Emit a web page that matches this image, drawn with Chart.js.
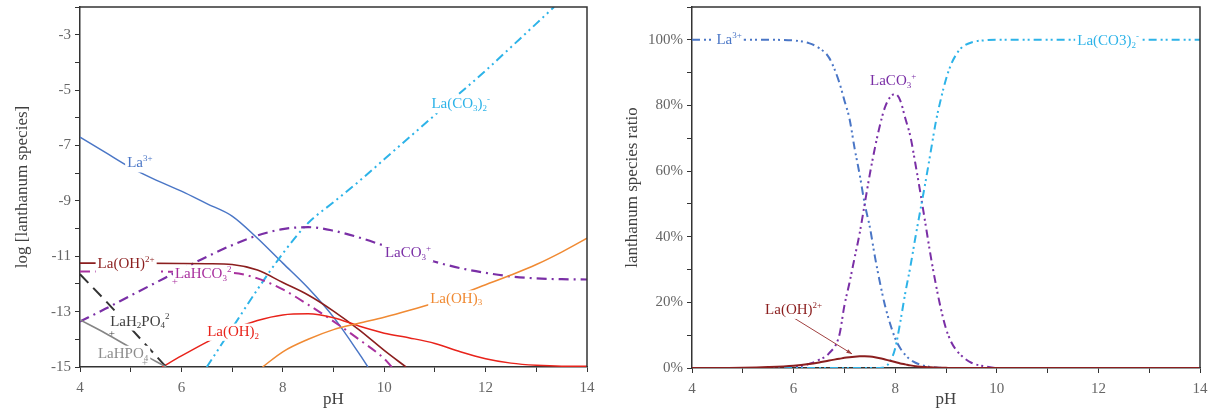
<!DOCTYPE html>
<html><head><meta charset="utf-8">
<script src="https://cdn.jsdelivr.net/npm/chart.js@4.4.1/dist/chart.umd.min.js"></script>
<style>
html,body{margin:0;padding:0;background:#fff;}
#wrapL{position:absolute;left:0;top:0;width:610px;height:412px;}
#wrapR{position:absolute;left:610px;top:0;width:607px;height:412px;}
</style></head><body>
<div id="wrapL"><canvas id="cL" width="610" height="412" style="width:610px;height:412px"></canvas></div>
<div id="wrapR"><canvas id="cR" width="607" height="412" style="width:607px;height:412px"></canvas></div>
<script>
// ---------- Left chart: log [lanthanum species] vs pH ----------
const pH_La3 = [4, 4.5, 5, 5.5, 6, 6.5, 7, 7.5, 8, 8.5, 9, 9.5, 9.68];
const log_La3 = [-6.7, -7.25, -7.8, -8.25, -8.65, -9.1, -9.55, -10.35, -11.25, -12.15, -13.2, -14.5, -15];

const pH_LaCO3 = [4, 4.5, 5, 5.5, 6, 6.5, 7, 7.5, 8, 8.5, 9, 9.5, 10, 10.5, 11, 11.5, 12, 12.5, 13, 13.5, 14];
const log_LaCO3 = [-13.36, -12.9, -12.42, -11.95, -11.48, -11.02, -10.6, -10.25, -10.02, -9.95, -10.08, -10.32, -10.62, -10.92, -11.2, -11.43, -11.6, -11.73, -11.8, -11.83, -11.84];

const pH_LaCO32 = [6.5, 7, 7.5, 8, 8.5, 9, 9.5, 10, 10.5, 11, 11.5, 12, 12.5, 13, 13.35];
const log_LaCO32 = [-15, -13.6, -12.2, -10.9, -9.8, -9.05, -8.3, -7.5, -6.7, -5.9, -5.1, -4.3, -3.45, -2.6, -2.0];

const pH_LaOH = [4, 5, 6, 6.5, 7, 7.5, 8, 8.5, 9, 9.5, 10, 10.43];
const log_LaOH = [-11.25, -11.25, -11.26, -11.27, -11.3, -11.5, -11.95, -12.4, -12.98, -13.65, -14.4, -15];

const pH_LaHCO3 = [4, 5, 6, 7, 7.5, 8, 8.5, 9, 9.5, 10, 10.15];
const log_LaHCO3 = [-11.55, -11.55, -11.56, -11.6, -11.8, -12.2, -12.75, -13.35, -14.0, -14.7, -15];

const pH_LaOH2 = [5.62, 6, 6.5, 7, 7.5, 8, 8.5, 9, 9.5, 10, 10.5, 11, 11.5, 12, 12.5, 13, 13.5, 14];
const log_LaOH2 = [-15, -14.6, -14.1, -13.65, -13.32, -13.12, -13.08, -13.22, -13.52, -13.78, -13.95, -14.15, -14.45, -14.7, -14.86, -14.94, -14.97, -14.97];

const pH_LaOH3 = [7.6, 8, 8.5, 9, 9.5, 10, 10.5, 11, 11.5, 12, 12.5, 13, 13.5, 14];
const log_LaOH3 = [-15, -14.45, -14.0, -13.65, -13.42, -13.2, -12.95, -12.68, -12.38, -12.03, -11.68, -11.3, -10.85, -10.35];

const pH_LaH2PO4 = [4, 4.5, 5, 5.5, 5.7];
const log_LaH2PO4 = [-11.65, -12.6, -13.6, -14.6, -15];

const pH_LaHPO4 = [4, 4.5, 5, 5.5, 5.7];
const log_LaHPO4 = [-13.3, -13.78, -14.3, -14.8, -15];

const leftXTicks = [4, 6, 8, 10, 12, 14];
const leftYTicks = [-3, -5, -7, -9, -11, -13, -15];

// ---------- Right chart: species ratio (%) vs pH ----------
const pH_R = [4, 5, 5.5, 6, 6.3, 6.5, 6.7, 6.9, 7.0, 7.1, 7.2, 7.3, 7.4, 7.5, 7.6, 7.7, 7.8, 7.9, 8.0, 8.1, 8.2, 8.3, 8.4, 8.5, 8.6, 8.7, 8.8, 8.9, 9.0, 9.1, 9.2, 9.3, 9.5, 9.8, 10, 11, 12, 13, 14];
const ratio_La3 = [100, 100, 100, 99.8, 99, 97.5, 94.5, 87, 81.5, 76, 67, 59, 50, 43, 34, 26, 19, 13.5, 9, 6, 4, 2.5, 1.6, 1, 0.6, 0.3, 0.15, 0.05, 0, 0, 0, 0, 0, 0, 0, 0, 0, 0, 0];
const ratio_LaCO3 = [0, 0, 0, 0.3, 1.2, 2.5, 4.5, 10, 19, 26, 33.5, 41, 50, 59, 67, 74, 79.5, 82.5, 83.5, 81.5, 76, 70.5, 62, 53, 43.5, 34, 25.5, 18, 12, 8, 5.5, 3.8, 1.6, 0.4, 0, 0, 0, 0, 0];
const ratio_LaCO32 = [0, 0, 0, 0, 0, 0, 0, 0, 0, 0, 0, 0, 0, 0, 0, 0, 0.3, 2, 6, 14, 23, 31, 40, 48.5, 57, 66, 75, 82, 88, 92.5, 95.5, 97.5, 99.2, 99.9, 100, 100, 100, 100, 100];
const ratio_LaOH = [0, 0.1, 0.3, 0.7, 1.2, 1.7, 2.3, 2.8, 3.1, 3.3, 3.45, 3.55, 3.6, 3.5, 3.3, 3.0, 2.6, 2.2, 1.8, 1.4, 1.1, 0.8, 0.55, 0.4, 0.3, 0.2, 0.12, 0.08, 0.05, 0, 0, 0, 0, 0, 0, 0, 0, 0, 0];

const rightXTicks = [4, 6, 8, 10, 12, 14];
const rightYTicks = [0, 20, 40, 60, 80, 100];

// ---------- helpers ----------
const FONT = '"Liberation Serif", "Times New Roman", serif';
function pts(xs, ys) { return xs.map((x, i) => ({x: x, y: ys[i]})); }
function ds(label, xs, ys, color, width, dash) {
  return {label, data: pts(xs, ys), borderColor: color, borderWidth: width, borderDash: dash || [],
    pointRadius: 0, fill: false, cubicInterpolationMode: 'monotone', tension: 0.4};
}
function parseRich(s) {
  const parts = []; const re = /(\^|_)\{([^}]*)\}/g; let last = 0, m;
  while ((m = re.exec(s))) {
    if (m.index > last) parts.push({t: s.slice(last, m.index)});
    parts.push({t: m[2], sup: m[1] === '^', sub: m[1] === '_'});
    last = re.lastIndex;
  }
  if (last < s.length) parts.push({t: s.slice(last)});
  return parts;
}
function drawRich(ctx, s, cx, cy, size, color, bg) {
  const parts = parseRich(s); const small = Math.round(size * 0.62);
  let w = 0;
  parts.forEach(p => { ctx.font = ((p.sup || p.sub) ? small : size) + 'px ' + FONT; p.w = ctx.measureText(p.t).width; w += p.w; });
  let x = cx - w / 2;
  if (bg) { ctx.fillStyle = '#fff'; ctx.fillRect(x - 2, cy - size * 0.55, w + 4, size * 1.15); }
  ctx.fillStyle = color; ctx.textBaseline = 'middle'; ctx.textAlign = 'left';
  parts.forEach(p => {
    ctx.font = ((p.sup || p.sub) ? small : size) + 'px ' + FONT;
    const dy = p.sub ? size * 0.3 : (p.sup ? -size * 0.3 : 0);
    ctx.fillText(p.t, x, cy + dy); x += p.w;
  });
}
const framePlugin = {
  id: 'frame',
  afterDraw(chart) {
    const {ctx, chartArea: a} = chart;
    ctx.save(); ctx.strokeStyle = '#333'; ctx.lineWidth = 1.5;
    ctx.beginPath(); ctx.moveTo(a.left, a.top); ctx.lineTo(a.right, a.top); ctx.lineTo(a.right, a.bottom); ctx.stroke();
    ctx.restore();
  }
};
const labelPlugin = {
  id: 'labels',
  afterDatasetsDraw(chart, args, opts) {
    const {ctx, scales: {x, y}} = chart;
    ctx.save();
    (opts.arrows || []).forEach(a => {
      const x1 = x.getPixelForValue(a.from[0]), y1 = y.getPixelForValue(a.from[1]);
      const x2 = x.getPixelForValue(a.to[0]), y2 = y.getPixelForValue(a.to[1]);
      ctx.strokeStyle = a.color; ctx.fillStyle = a.color; ctx.lineWidth = 1;
      ctx.beginPath(); ctx.moveTo(x1, y1); ctx.lineTo(x2, y2); ctx.stroke();
      const ang = Math.atan2(y2 - y1, x2 - x1), L = 6;
      ctx.beginPath(); ctx.moveTo(x2, y2);
      ctx.lineTo(x2 - L * Math.cos(ang - 0.35), y2 - L * Math.sin(ang - 0.35));
      ctx.lineTo(x2 - L * Math.cos(ang + 0.35), y2 - L * Math.sin(ang + 0.35));
      ctx.closePath(); ctx.fill();
    });
    (opts.items || []).forEach(it => {
      drawRich(ctx, it.text, x.getPixelForValue(it.at[0]), y.getPixelForValue(it.at[1]), it.size || 15, it.color, it.bg !== false);
    });
    ctx.restore();
  }
};
function axisCommon(title, ticksCb, fit) {
  return {
    type: 'linear',
    ticks: {color: '#666', font: {family: FONT, size: 15}, autoSkip: false, maxRotation: 0, callback: ticksCb, padding: 4},
    grid: {drawOnChartArea: false, drawTicks: true, tickLength: 5, color: '#333', lineWidth: 1},
    border: {color: '#333', width: 1.5},
    title: {display: true, text: title, color: '#404040', font: {family: FONT, size: 17}, padding: {top: 0, bottom: 2}},
    afterFit: fit
  };
}
function fitY(w) { return s => { s.width = w; s.paddingTop = 0; s.paddingBottom = 0; }; }
function fitX(h) { return s => { s.height = h; s.paddingLeft = 0; s.paddingRight = 0; }; }

// ---------- Left chart ----------
const lx = axisCommon('pH', v => leftXTicks.includes(v) ? String(v) : '', fitX(45));
lx.min = 4; lx.max = 14; lx.ticks.stepSize = 1; lx.ticks.padding = 7;
const ly = axisCommon('log [lanthanum species]', v => leftYTicks.includes(v) ? String(v) : '', fitY(80));
ly.min = -15; ly.max = -2; ly.ticks.stepSize = 1;
ly.title.padding = {top: 12, bottom: 0};

new Chart(document.getElementById('cL'), {
  type: 'line',
  data: {datasets: [
    ds('LaHPO4', pH_LaHPO4, log_LaHPO4, '#858585', 1.6),
    ds('LaH2PO4', pH_LaH2PO4, log_LaH2PO4, '#333333', 2, [12, 7]),
    ds('La(OH)3', pH_LaOH3, log_LaOH3, '#F08A33', 1.5),
    ds('La(OH)2', pH_LaOH2, log_LaOH2, '#E8231B', 1.5),
    ds('LaHCO3', pH_LaHCO3, log_LaHCO3, '#A8309E', 2, [10, 5, 2, 5]),
    ds('La(OH)2+', pH_LaOH, log_LaOH, '#8B1E1E', 1.6),
    ds('LaCO3+', pH_LaCO3, log_LaCO3, '#7A2FA6', 2.2, [10, 5, 2, 5]),
    ds('La(CO3)2-', pH_LaCO32, log_LaCO32, '#2DB3E8', 2, [9, 4, 2, 4, 2, 4]),
    ds('La3+', pH_La3, log_La3, '#4A76C6', 1.5)
  ]},
  options: {
    responsive: false, animation: false,
    layout: {padding: {left: 0, right: 23, top: 7, bottom: 0}},
    plugins: {
      legend: {display: false}, tooltip: {enabled: false},
      labels: {items: [
        {text: 'La^{3+}', at: [5.18, -7.65], color: '#4A76C6'},
        {text: 'La(CO_{3})_{2}^{-}', at: [11.51, -5.51], color: '#2DB3E8'},
        {text: 'LaCO_{3}^{+}', at: [10.47, -10.89], color: '#7A2FA6'},
        {text: 'La(OH)^{2+}', at: [4.91, -11.29], color: '#8B1E1E'},
        {text: 'LaHCO_{3}^{2}', at: [6.43, -11.65], color: '#A8309E'},
        {text: '+', at: [5.87, -11.95], color: '#A8309E', size: 11, bg: false},
        {text: 'LaH_{2}PO_{4}^{2}', at: [5.18, -13.36], color: '#404040'},
        {text: '+', at: [4.63, -13.8], color: '#404040', size: 11, bg: false},
        {text: 'LaHPO_{4}', at: [4.85, -14.53], color: '#8C8C8C'},
        {text: '+', at: [5.28, -14.85], color: '#8C8C8C', size: 11, bg: false},
        {text: 'La(OH)_{2}', at: [7.02, -13.73], color: '#E8231B'},
        {text: 'La(OH)_{3}', at: [11.42, -12.53], color: '#F08A33'}
      ]}
    },
    scales: {x: lx, y: ly}
  },
  plugins: [labelPlugin, framePlugin]
});

// ---------- Right chart ----------
const rx = axisCommon('pH', v => rightXTicks.includes(v) ? String(v) : '', fitX(44));
rx.min = 4; rx.max = 14; rx.ticks.stepSize = 1; rx.ticks.padding = 7;
const ry = axisCommon('lanthanum species ratio', v => rightYTicks.includes(v) ? v + '%' : '', fitY(82));
ry.min = 0; ry.max = 110; ry.ticks.stepSize = 10;
ry.title.padding = {top: 12, bottom: 0};
const rdash = [8, 4, 2, 3, 2, 4];

new Chart(document.getElementById('cR'), {
  type: 'line',
  data: {datasets: [
    ds('La(OH)2+', pH_R, ratio_LaOH, '#8B1E1E', 2),
    ds('La(CO3)2-', pH_R, ratio_LaCO32, '#2DB3E8', 2, rdash),
    ds('LaCO3+', pH_R, ratio_LaCO3, '#7A2FA6', 2, rdash),
    ds('La3+', pH_R, ratio_La3, '#4A76C6', 2, rdash)
  ]},
  options: {
    responsive: false, animation: false,
    layout: {padding: {left: 0, right: 17, top: 7, bottom: 0}},
    plugins: {
      legend: {display: false}, tooltip: {enabled: false},
      labels: {
        arrows: [{from: [6.0, 15.3], to: [7.15, 4.3], color: '#A04040'}],
        items: [
          {text: 'La^{3+}', at: [4.73, 100], color: '#4A76C6'},
          {text: 'LaCO_{3}^{+}', at: [7.96, 87.5], color: '#7A2FA6'},
          {text: 'La(CO3)_{2}^{-}', at: [12.19, 99.7], color: '#2DB3E8'},
          {text: 'La(OH)^{2+}', at: [6.0, 17.7], color: '#8B1E1E'}
        ]
      }
    },
    scales: {x: rx, y: ry}
  },
  plugins: [labelPlugin, framePlugin]
});
</script>
</body></html>
